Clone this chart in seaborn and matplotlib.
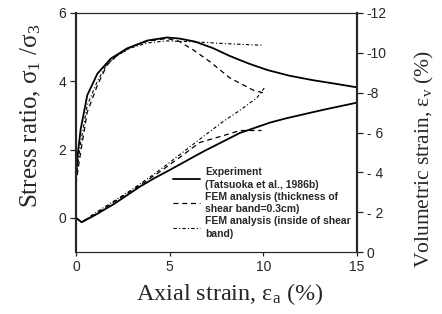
import matplotlib
matplotlib.use('Agg')
import matplotlib.pyplot as plt
import seaborn as sns

# stress ratio curves (left axis)
ea_exp_sr = [0, 0.1, 0.25, 0.6, 1.14, 1.85, 2.72, 3.8, 4.85, 5.5, 6.35, 7.3, 8.2, 9.2, 10.2, 11.4, 12.65, 13.8, 15]
sr_exp = [1.2, 1.9, 2.6, 3.59, 4.22, 4.66, 4.96, 5.19, 5.28, 5.25, 5.16, 4.97, 4.74, 4.52, 4.33, 4.16, 4.03, 3.93, 3.82]

ea_fem_sr = [0, 0.1, 0.25, 0.6, 1.14, 1.65, 2.2, 2.9, 3.8, 4.85, 5.5, 6.3, 7.15, 8.2, 9.45, 10.0]
sr_fem = [1.0, 1.4, 1.93, 3.1, 3.88, 4.47, 4.76, 4.99, 5.17, 5.25, 5.17, 4.9, 4.57, 4.1, 3.74, 3.66]

ea_inb_sr = [0, 0.1, 0.25, 0.6, 1.14, 1.65, 2.2, 2.9, 3.8, 4.85, 6.4, 8.0, 10.0]
sr_inb = [1.1, 1.6, 2.2, 3.3, 4.0, 4.5, 4.75, 4.97, 5.12, 5.18, 5.15, 5.1, 5.05]

# volumetric strain curves (right axis)
ea_exp_v = [0, 0.3, 1.0, 2.0, 3.4, 4.2, 5.0, 6.8, 8.75, 9.5, 10.36, 11.25, 13.2, 15]
ev_exp = [-1.72, -1.5, -1.85, -2.4, -3.28, -3.72, -4.12, -5.05, -5.98, -6.22, -6.5, -6.72, -7.14, -7.5]

ea_fem_v = [0, 0.3, 1.0, 2.0, 3.4, 4.5, 5.6, 6.6, 7.7, 8.75, 9.9]
ev_fem = [-1.72, -1.5, -1.9, -2.5, -3.35, -4.05, -4.8, -5.5, -5.8, -6.1, -6.1]

ea_inb_v = [0, 0.3, 1.0, 2.0, 3.0, 4.1, 5.0, 6.1, 7.0, 7.85, 8.8, 9.65, 10.1]
ev_inb = [-1.72, -1.5, -1.95, -2.55, -3.15, -3.87, -4.5, -5.3, -5.95, -6.55, -7.15, -7.74, -8.3]

labels = ['Experiment\n(Tatsuoka et al., 1986b)',
          'FEM analysis (thickness of\nshear band=0.3cm)',
          'FEM analysis (inside of shear\nband)']

x_ticks = [0, 5, 10, 15]
left_ticks = [0, 2, 4, 6]
right_ticks = [0, -2, -4, -6, -8, -10, -12]
right_ticklabels = ['0', '- 2', '- 4', '- 6', '-8', '-10', '-12']

sns.set_style('ticks')
plt.rcParams['font.family'] = ['Liberation Sans', 'DejaVu Sans']

fig = plt.figure(figsize=(4.42, 3.14), dpi=100)
ax = fig.add_axes([0.172, 0.197, 0.636, 0.762])
ax2 = ax.twinx()

dash = (0, (4, 3))
dashdot = (0, (3, 2, 1, 2))

sns.lineplot(x=ea_exp_sr, y=sr_exp, ax=ax, color='k', lw=1.3, sort=False, estimator=None)
sns.lineplot(x=ea_fem_sr, y=sr_fem, ax=ax, color='k', lw=0.9, linestyle=dash, sort=False, estimator=None)
sns.lineplot(x=ea_inb_sr, y=sr_inb, ax=ax, color='k', lw=0.8, linestyle=dashdot, sort=False, estimator=None)

sns.lineplot(x=ea_exp_v, y=ev_exp, ax=ax2, color='k', lw=1.3, sort=False, estimator=None, label=labels[0])
sns.lineplot(x=ea_fem_v, y=ev_fem, ax=ax2, color='k', lw=0.9, linestyle=dash, sort=False, estimator=None, label=labels[1])
sns.lineplot(x=ea_inb_v, y=ev_inb, ax=ax2, color='k', lw=0.8, linestyle=dashdot, sort=False, estimator=None, label=labels[2])

ax.set_xlim(0, 15)
ax.set_ylim(-1, 6)
ax2.set_ylim(0, -12)
ax.set_xticks(x_ticks)
ax.set_yticks(left_ticks)
ax2.set_yticks(right_ticks)
ax2.set_yticklabels(right_ticklabels)

for a in (ax, ax2):
    a.tick_params(labelsize=10, length=4, width=0.9, pad=3)
    for s in ('top', 'bottom'):
        a.spines[s].set_linewidth(0.8)
    for s in ('left', 'right'):
        a.spines[s].set_linewidth(1.5)
ax.tick_params(axis='x', length=3)

serif = ['Liberation Serif', 'DejaVu Serif']
ax.set_xlabel(r'Axial strain, $\mathregular{\varepsilon_a}$ (%)', fontsize=17.5, family=serif)
ax.set_ylabel(r'Stress ratio, $\mathregular{\sigma_1}$ /$\mathregular{\sigma_3}$', fontsize=18, family=serif)
ax2.set_ylabel(r'Volumetric strain, $\mathregular{\varepsilon_v}$ (%)', fontsize=15.5, family=serif)
ax.xaxis.set_label_coords(0.548, -0.12)
ax.yaxis.set_label_coords(-0.118, 0.57)
ax2.yaxis.set_label_coords(1.2, 0.39)

leg = ax2.legend(loc='upper left', bbox_to_anchor=(0.345, 0.355), frameon=False,
                 prop={'size': 7.5, 'weight': 'bold'}, handlelength=2.6,
                 handletextpad=0.5, labelspacing=0.15, borderaxespad=0, borderpad=0)
for t in leg.get_texts():
    t.set_linespacing(1.35)

fig.savefig('out.png', dpi=100)
